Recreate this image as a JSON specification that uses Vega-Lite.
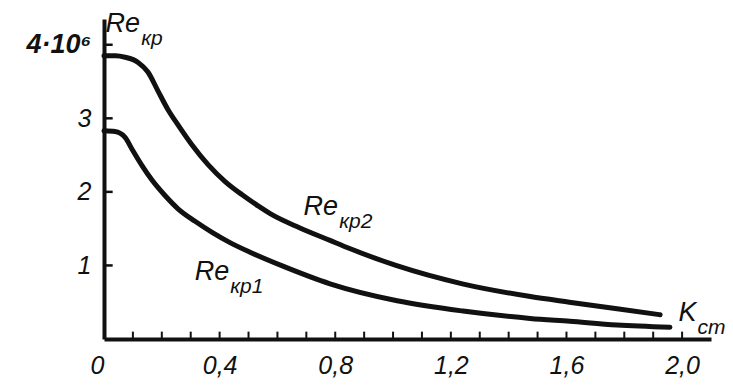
{
  "$schema": "https://vega.github.io/schema/vega-lite/v6.json",
  "width": 607,
  "height": 320,
  "autosize": "none",
  "padding": {"left": 104, "top": 19, "right": 22, "bottom": 46},
  "background": "white",
  "config": {
    "view": {"stroke": null},
    "axis": {
      "grid": false,
      "title": null,
      "ticks": false,
      "domainColor": "#111",
      "domainWidth": 4,
      "labelColor": "#111",
      "labelFont": "Liberation Sans",
      "labelFontStyle": "italic",
      "labelFontSize": 25,
      "labelFlush": false,
      "labelOverlap": false
    }
  },
  "datasets": {
    "curves": [
      {"curve": "Re_kp2", "k": 0.0, "re": 3.85},
      {"curve": "Re_kp2", "k": 0.04, "re": 3.85},
      {"curve": "Re_kp2", "k": 0.073, "re": 3.83},
      {"curve": "Re_kp2", "k": 0.118, "re": 3.76},
      {"curve": "Re_kp2", "k": 0.152, "re": 3.63},
      {"curve": "Re_kp2", "k": 0.187, "re": 3.37},
      {"curve": "Re_kp2", "k": 0.221, "re": 3.12},
      {"curve": "Re_kp2", "k": 0.256, "re": 2.91},
      {"curve": "Re_kp2", "k": 0.304, "re": 2.64},
      {"curve": "Re_kp2", "k": 0.36, "re": 2.37},
      {"curve": "Re_kp2", "k": 0.419, "re": 2.14},
      {"curve": "Re_kp2", "k": 0.478, "re": 1.96},
      {"curve": "Re_kp2", "k": 0.533, "re": 1.81},
      {"curve": "Re_kp2", "k": 0.581, "re": 1.69},
      {"curve": "Re_kp2", "k": 0.678, "re": 1.51},
      {"curve": "Re_kp2", "k": 0.782, "re": 1.34},
      {"curve": "Re_kp2", "k": 0.85, "re": 1.23},
      {"curve": "Re_kp2", "k": 1.01, "re": 1.0},
      {"curve": "Re_kp2", "k": 1.24, "re": 0.75},
      {"curve": "Re_kp2", "k": 1.47, "re": 0.58},
      {"curve": "Re_kp2", "k": 1.61, "re": 0.5},
      {"curve": "Re_kp2", "k": 1.775, "re": 0.41},
      {"curve": "Re_kp2", "k": 1.924, "re": 0.33},
      {"curve": "Re_kp1", "k": 0.0, "re": 2.83},
      {"curve": "Re_kp1", "k": 0.038, "re": 2.82},
      {"curve": "Re_kp1", "k": 0.073, "re": 2.74},
      {"curve": "Re_kp1", "k": 0.097, "re": 2.58},
      {"curve": "Re_kp1", "k": 0.131, "re": 2.36},
      {"curve": "Re_kp1", "k": 0.166, "re": 2.16},
      {"curve": "Re_kp1", "k": 0.211, "re": 1.95},
      {"curve": "Re_kp1", "k": 0.256, "re": 1.77},
      {"curve": "Re_kp1", "k": 0.315, "re": 1.6},
      {"curve": "Re_kp1", "k": 0.374, "re": 1.45},
      {"curve": "Re_kp1", "k": 0.436, "re": 1.31},
      {"curve": "Re_kp1", "k": 0.505, "re": 1.18},
      {"curve": "Re_kp1", "k": 0.619, "re": 0.99},
      {"curve": "Re_kp1", "k": 0.782, "re": 0.75},
      {"curve": "Re_kp1", "k": 1.014, "re": 0.52},
      {"curve": "Re_kp1", "k": 1.242, "re": 0.38},
      {"curve": "Re_kp1", "k": 1.474, "re": 0.28},
      {"curve": "Re_kp1", "k": 1.612, "re": 0.24},
      {"curve": "Re_kp1", "k": 1.775, "re": 0.19},
      {"curve": "Re_kp1", "k": 1.958, "re": 0.16}
    ],
    "labels": [
      {"main": "Re", "sub": "кр2", "x": 0.81, "y": 1.69},
      {"main": "Re", "sub": "кр1", "x": 0.433, "y": 0.8},
      {"main": "Re", "sub": "кр", "x": 0.125, "y": 4.17},
      {"main": "K", "sub": "ст", "x": 2.05, "y": 0.245}
    ],
    "xticks": [
      {"k": 0.1}, {"k": 0.2}, {"k": 0.3}, {"k": 0.4}, {"k": 0.5}, {"k": 0.6}, {"k": 0.7},
      {"k": 0.8}, {"k": 0.9}, {"k": 1.0}, {"k": 1.1}, {"k": 1.2}, {"k": 1.3}, {"k": 1.4},
      {"k": 1.5}, {"k": 1.6}, {"k": 1.7}, {"k": 1.8}, {"k": 1.9}, {"k": 2.0}
    ],
    "yticks": [{"re": 1}, {"re": 2}, {"re": 3}, {"re": 4}]
  },
  "layer": [
    {
      "data": {"name": "xticks"},
      "mark": {"type": "rule", "color": "#111", "strokeWidth": 2},
      "encoding": {
        "x": {"field": "k", "type": "quantitative"},
        "y": {"datum": 0},
        "y2": {"datum": 0.1}
      }
    },
    {
      "data": {"name": "yticks"},
      "mark": {"type": "rule", "color": "#111", "strokeWidth": 2.5},
      "encoding": {
        "y": {"field": "re", "type": "quantitative"},
        "x": {"datum": 0},
        "x2": {"datum": 0.03}
      }
    },
    {
      "data": {"name": "curves"},
      "mark": {"type": "line", "interpolate": "monotone", "strokeWidth": 5, "color": "#111", "strokeCap": "round"},
      "encoding": {
        "x": {
          "field": "k",
          "type": "quantitative",
          "scale": {"domain": [0, 2.1], "nice": false, "zero": false},
          "axis": {
            "values": [0, 0.4, 0.8, 1.2, 1.6, 2.0],
            "labelExpr": "datum.value==0 ? '0' : replace(format(datum.value, '.1f'), '.', ',')",
            "labelAlign": {"condition": {"test": "datum.value == 0", "value": "right"}, "value": "center"},
            "labelBaseline": "top",
            "labelPadding": 14
          }
        },
        "y": {
          "field": "re",
          "type": "quantitative",
          "scale": {"domain": [0, 4.35], "nice": false},
          "axis": {
            "values": [1, 2, 3, 4],
            "labelFontSize": {"condition": {"test": "datum.value == 4", "value": 27}, "value": 25},
            "labelFontWeight": {"condition": {"test": "datum.value == 4", "value": "bold"}, "value": "normal"},
            "labelExpr": "datum.value==4 ? '4·10⁶' : format(datum.value, 'd')",
            "labelPadding": 13
          }
        },
        "detail": {"field": "curve"}
      }
    },
    {
      "data": {"name": "labels"},
      "mark": {"type": "text", "align": "right", "baseline": "alphabetic", "font": "Liberation Sans", "fontStyle": "italic", "fontSize": 27, "color": "#111"},
      "encoding": {
        "x": {"field": "x", "type": "quantitative"},
        "y": {"field": "y", "type": "quantitative"},
        "text": {"field": "main"}
      }
    },
    {
      "data": {"name": "labels"},
      "mark": {"type": "text", "align": "left", "baseline": "alphabetic", "font": "Liberation Sans", "fontStyle": "italic", "fontSize": 21, "color": "#111", "dx": 1, "dy": 13},
      "encoding": {
        "x": {"field": "x", "type": "quantitative"},
        "y": {"field": "y", "type": "quantitative"},
        "text": {"field": "sub"}
      }
    }
  ]
}
